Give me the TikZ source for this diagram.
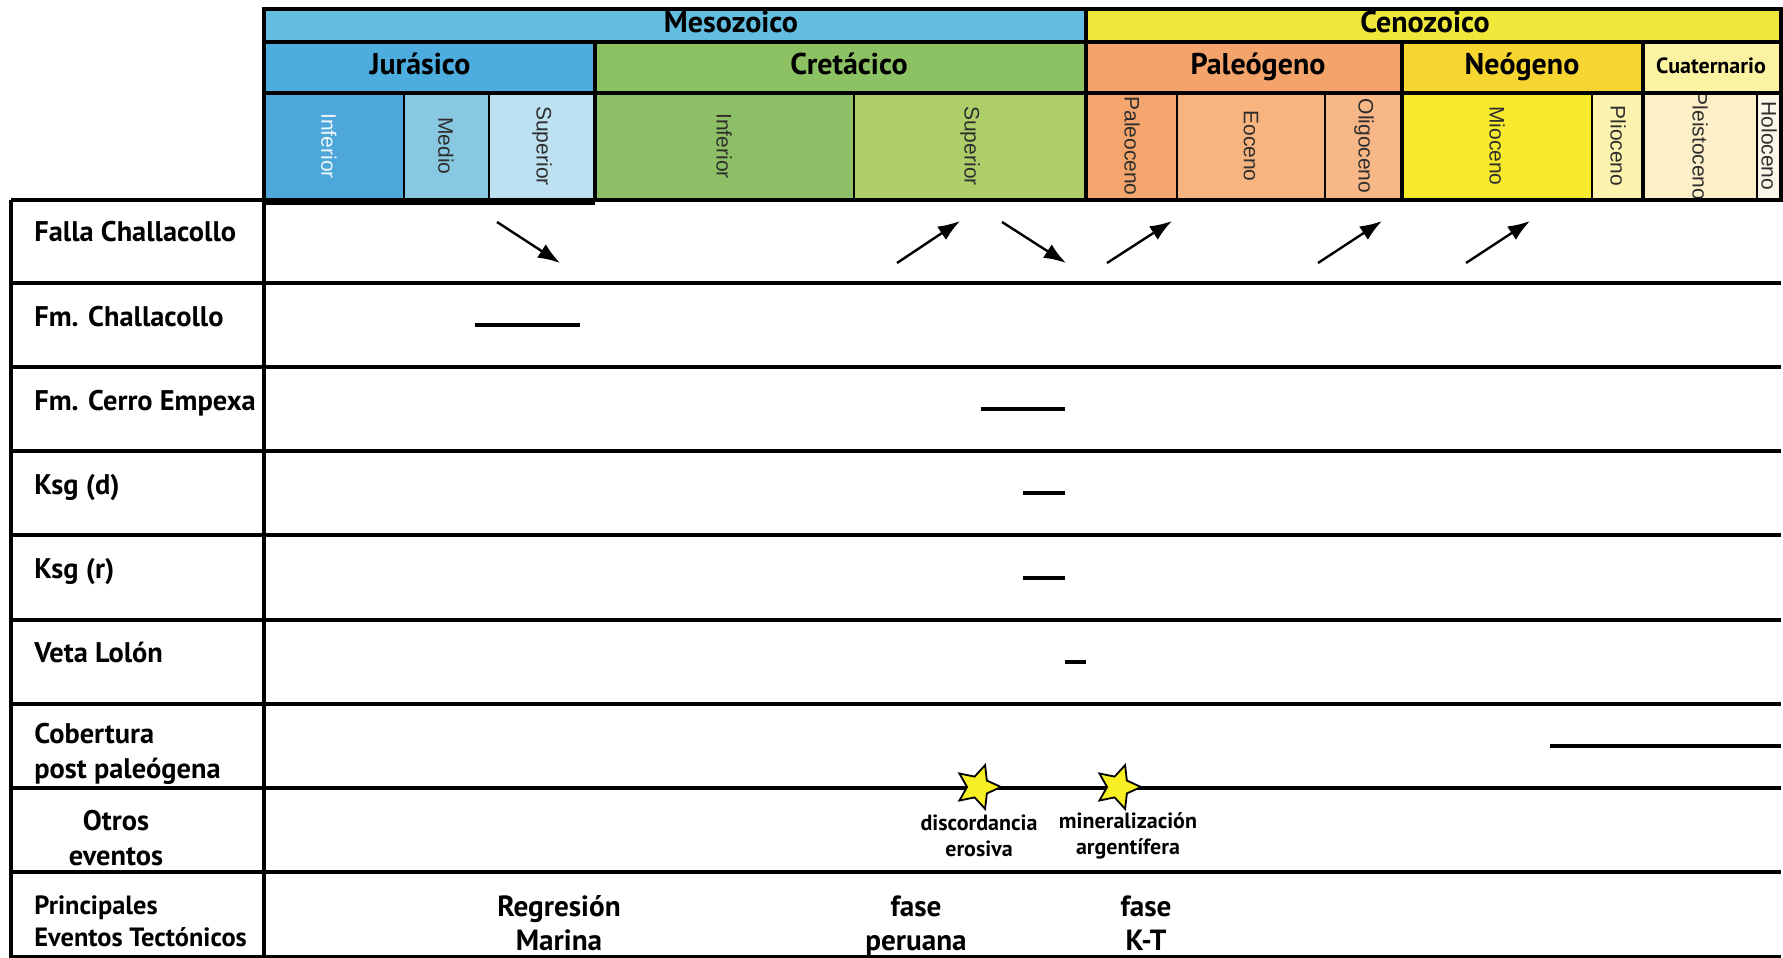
\documentclass[tikz,border=0pt]{standalone}
\usepackage{fontspec}
\setmainfont{PT Sans}
\newfontfamily\epochfont{Liberation Sans}
\usetikzlibrary{arrows.meta,shapes.geometric}

% era / period / epoch colours
\definecolor{mesoC}{HTML}{63BDE0}
\definecolor{cenoC}{HTML}{EEE83A}
\definecolor{jurC}{HTML}{4CADDE}
\definecolor{jurInfC}{HTML}{4EA7DA}
\definecolor{jurMedC}{HTML}{88C8E1}
\definecolor{jurSupC}{HTML}{BDE1F0}
\definecolor{creC}{HTML}{8CC263}
\definecolor{creInfC}{HTML}{8DC066}
\definecolor{creSupC}{HTML}{ADCE69}
\definecolor{palC}{HTML}{F4A46B}
\definecolor{paleoC}{HTML}{F4A56D}
\definecolor{eoC}{HTML}{F7B47F}
\definecolor{oliC}{HTML}{F8B786}
\definecolor{neoC}{HTML}{F7D632}
\definecolor{mioC}{HTML}{F7E92B}
\definecolor{plioC}{HTML}{FCF3AE}
\definecolor{cuaC}{HTML}{FBF2A2}
\definecolor{pleiC}{HTML}{FDF0C8}
\definecolor{holoC}{HTML}{FCF6E8}
\definecolor{starC}{HTML}{F7EE23}
\definecolor{epochText}{HTML}{2E2E2E}

\begin{document}
\begin{tikzpicture}[x=0.5pt,y=-0.5pt,
  thickline/.style={line width=2.2pt,draw=black},
  gridline/.style={line width=1.8pt,draw=black},
  thinsep/.style={line width=0.9pt,draw=black},
  lbl/.style={font=\bfseries\fontsize{14.2}{17}\selectfont,anchor=west,inner sep=0pt,align=left},
  rowlbl/.style={lbl,anchor=base west},
  hdrtxt/.style={font=\bfseries\fontsize{15}{17}\selectfont,inner sep=0pt},
  epoch/.style={font=\epochfont\fontsize{10.5}{12}\selectfont,text=epochText,rotate=-90,inner sep=0pt},
  evt/.style={font=\bfseries\fontsize{11}{13}\selectfont,align=center,inner sep=0pt},
  tect/.style={font=\bfseries\fontsize{14.6}{17}\selectfont,align=center,inner sep=0pt},
  agebar/.style={line width=2pt,draw=black},
  move/.style={line width=1.2pt,-{Latex[length=11pt,width=8pt]}},
  evstar/.style={star,star points=5,star point ratio=2.1,minimum size=23pt,inner sep=0pt,
                 fill=starC,draw=black,line width=0.9pt,rotate=-18}
]
\useasboundingbox (0,0) rectangle (1783,958);

% ---- era row
\fill[mesoC] (264,9) rectangle (1086,42);
\fill[cenoC] (1086,9) rectangle (1781,42);
% ---- period row
\fill[jurC] (264,42) rectangle (595,93);
\fill[creC] (595,42) rectangle (1086,93);
\fill[palC] (1086,42) rectangle (1402,93);
\fill[neoC] (1402,42) rectangle (1643,93);
\fill[cuaC] (1643,42) rectangle (1781,93);
% ---- epoch row
\fill[jurInfC] (264,93) rectangle (404,200);
\fill[jurMedC] (404,93) rectangle (489,200);
\fill[jurSupC] (489,93) rectangle (595,200);
\fill[creInfC] (595,93) rectangle (854,200);
\fill[creSupC] (854,93) rectangle (1086,200);
\fill[paleoC] (1086,93) rectangle (1177,200);
\fill[eoC] (1177,93) rectangle (1325,200);
\fill[oliC] (1325,93) rectangle (1402,200);
\fill[mioC] (1402,93) rectangle (1592,200);
\fill[plioC] (1592,93) rectangle (1643,200);
\fill[pleiC] (1643,93) rectangle (1757,200);
\fill[holoC] (1757,93) rectangle (1781,200);

% ---- header texts
\node[hdrtxt] (meso) at (731,22) {Mesozoico};
\node[hdrtxt] (ceno) at (1425,22) {Cenozoico};
\node[hdrtxt] (jur) at (420,64) {Jurásico};
\node[hdrtxt] (cre) at (849,64) {Cretácico};
\node[hdrtxt] (pal) at (1258,67) {Paleógeno};
\node[hdrtxt] (neo) at (1522,67) {Neógeno};
\node[hdrtxt,font=\bfseries\fontsize{11}{13}\selectfont] (cua) at (1711,66) {Cuaternario};

\node[epoch,text=white!92!jurC] (e1) at (329,146) {Inferior};
\node[epoch] (e2) at (446,146) {Medio};
\node[epoch] (e3) at (542,146) {Superior};
\node[epoch] (e4) at (724,146) {Inferior};
\node[epoch] (e5) at (970,146) {Superior};
\node[epoch] (e6) at (1132,146) {Paleoceno};
\node[epoch] (e7) at (1251,146) {Eoceno};
\node[epoch] (e8) at (1364,146) {Oligoceno};
\node[epoch] (e9) at (1497,146) {Mioceno};
\node[epoch] (e10) at (1618,146) {Plioceno};
\node[epoch] (e11) at (1700,146) {Pleistoceno};
\node[epoch] (e12) at (1769,146) {Holoceno};

% ---- header lines
\draw[thinsep] (404,93) -- (404,200) (489,93) -- (489,200)
               (854,93) -- (854,200) (1177,93) -- (1177,200) (1325,93) -- (1325,200)
               (1592,93) -- (1592,200) (1757,93) -- (1757,200);
\draw[thickline] (264,42) -- (1781,42) (264,93) -- (1781,93);
\draw[thickline] (595,42) -- (595,200) (1086,9) -- (1086,200)
                 (1402,42) -- (1402,200) (1643,42) -- (1643,200);
\draw[thickline] (264,9) rectangle (1781,200);
\draw[line width=3pt] (264,202) -- (595,202);

% ---- table grid
\draw[gridline] (11,200) -- (264,200);
\foreach \yy in {283,367,451,535,620,704,788,872}
  \draw[gridline] (11,\yy) -- (1781,\yy);
\draw[gridline] (11,957) -- (1781,957);
\draw[gridline] (11,200) -- (11,958);
\draw[gridline] (264,200) -- (264,958);

% ---- row labels
\node[rowlbl] (r1) at (34,241) {Falla Challacollo};
\node[rowlbl] (r2) at (34,326) {Fm. Challacollo};
\node[rowlbl] (r3) at (34,410) {Fm. Cerro Empexa};
\node[rowlbl] (r4) at (34,494) {Ksg (d)};
\node[rowlbl] (r5) at (34,578) {Ksg (r)};
\node[rowlbl] (r6) at (34,662) {Veta Lolón};
\node[lbl,font=\bfseries\fontsize{14.2}{17.5}\selectfont] (r7) at (34,754) {Cobertura\\post paleógena};
\node[lbl,anchor=center,align=center,font=\bfseries\fontsize{14.2}{17.5}\selectfont] (r8) at (116,838) {Otros\\eventos};
\node[lbl,font=\bfseries\fontsize{13.2}{16}\selectfont] (r9) at (34,921) {Principales\\Eventos Tectónicos};

% ---- fault movements
\coordinate (a1s) at (497,222); \coordinate (a1e) at (560,263);
\coordinate (a2s) at (897,263); \coordinate (a2e) at (960,221);
\coordinate (a3s) at (1002,222); \coordinate (a3e) at (1066,263);
\coordinate (a4s) at (1107,263); \coordinate (a4e) at (1172,221);
\coordinate (a5s) at (1318,263); \coordinate (a5e) at (1382,221);
\coordinate (a6s) at (1466,263); \coordinate (a6e) at (1530,221);
\foreach \k in {1,...,6} \draw[move] (a\k s) -- (a\k e);

% ---- age ranges
\coordinate (b2s) at (475,325); \coordinate (b2e) at (580,325);
\coordinate (b3s) at (981,409); \coordinate (b3e) at (1065,409);
\coordinate (b4s) at (1023,493); \coordinate (b4e) at (1065,493);
\coordinate (b5s) at (1023,578); \coordinate (b5e) at (1065,578);
\coordinate (b6s) at (1065,662); \coordinate (b6e) at (1086,662);
\coordinate (b7s) at (1550,746); \coordinate (b7e) at (1781,746);
\foreach \k in {2,...,7} \draw[agebar] (b\k s) -- (b\k e);

% ---- other events
\node[evstar] (s1) at (978,787) {};
\node[evstar] (s2) at (1118,787) {};
\node[evt] (t1) at (979,836) {discordancia\\erosiva};
\node[evt] (t2) at (1128,836) {mineralización\\argentífera};

% ---- tectonic events
\node[tect] (k1) at (559,923) {Regresión\\Marina};
\node[tect] (k2) at (916,926) {fase\\peruana};
\node[tect] (k3) at (1146,923) {fase\\K-T};
\end{tikzpicture}
\end{document}
